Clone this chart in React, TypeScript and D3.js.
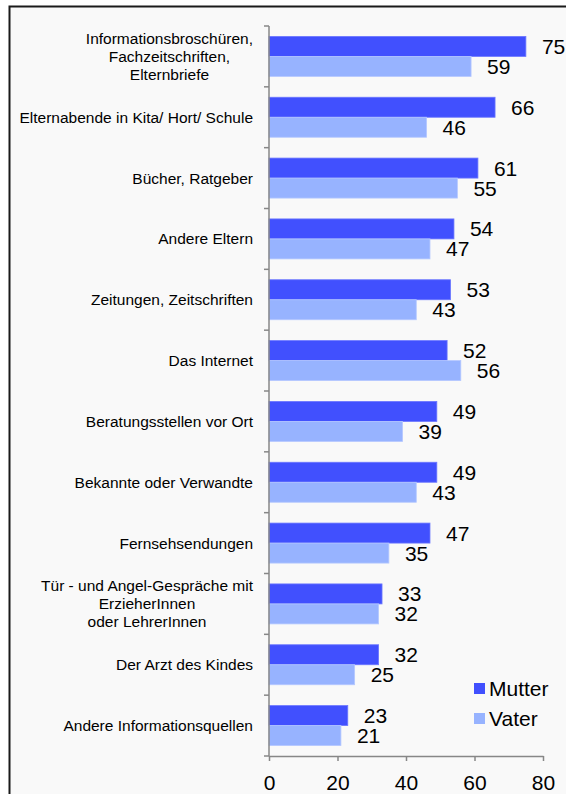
import React, { useEffect, useRef } from "react"
import * as d3 from "d3"

const categories = [
    "Informationsbroschüren,\nFachzeitschriften,\nElternbriefe",
    "Elternabende in Kita/ Hort/ Schule",
    "Bücher, Ratgeber",
    "Andere Eltern",
    "Zeitungen, Zeitschriften",
    "Das Internet",
    "Beratungsstellen vor Ort",
    "Bekannte oder Verwandte",
    "Fernsehsendungen",
    "Tür - und Angel-Gespräche mit\nErzieherInnen\noder LehrerInnen",
    "Der Arzt des Kindes",
    "Andere Informationsquellen",
]
const mutter = [75, 66, 61, 54, 53, 52, 49, 49, 47, 33, 32, 23]
const vater = [59, 46, 55, 47, 43, 56, 39, 43, 35, 32, 25, 21]
const seriesNames = ["Mutter", "Vater"]
const xTicks = [0, 20, 40, 60, 80]

const colors = ["#4150fe", "#97b3ff"]
const font = "'Liberation Sans', Arial, sans-serif"

const App = () => {
    const svgRef = useRef<SVGSVGElement | null>(null)

    useEffect(() => {
        if (!svgRef.current) return
        const svg = d3.select(svgRef.current)
        svg.selectAll("*").remove()

        // outer frame (runs past the bottom/right edge like the source)
        svg.append("rect")
            .attr("x", 9.5)
            .attr("y", 6.5)
            .attr("width", 620)
            .attr("height", 840)
            .attr("fill", "#f9f9f9")
            .attr("stroke", "#1a1a1a")
            .attr("stroke-width", 2)

        const left = 269
        const right = 543
        const top = 26
        const bottom = 756

        const x = d3.scaleLinear().domain([0, 80]).range([left, right])
        const y = d3
            .scaleBand()
            .domain(categories)
            .range([top, bottom])
            .paddingInner(0)
            .paddingOuter(0)

        const barH = 20

        const rows = categories.map((c, i) => ({
            cat: c,
            vals: [mutter[i], vater[i]],
        }))

        // bars + value labels
        const g = svg.append("g")
        rows.forEach((r) => {
            const cy = (y(r.cat) as number) + y.bandwidth() / 2
            r.vals.forEach((v, s) => {
                const by = cy - barH + s * barH
                g.append("rect")
                    .attr("x", x(0))
                    .attr("y", by)
                    .attr("width", x(v) - x(0))
                    .attr("height", barH)
                    .attr("fill", colors[s])
                    .attr("stroke", s === 0 ? "#6b77ff" : "#b5c8ff")
                    .attr("stroke-width", 0.8)
                g.append("text")
                    .attr("x", x(v) + 16)
                    .attr("y", by + barH / 2)
                    .attr("dy", "0.36em")
                    .attr("font-family", font)
                    .attr("font-size", 21)
                    .attr("fill", "#000")
                    .text(v)
            })
        })

        // y axis line + ticks at category boundaries
        const axisColor = "#878787"
        svg.append("line")
            .attr("x1", left)
            .attr("x2", left)
            .attr("y1", top)
            .attr("y2", bottom)
            .attr("stroke", axisColor)
            .attr("stroke-width", 1.5)
        const bounds = categories.map((c) => y(c) as number).concat([bottom])
        svg.append("g")
            .selectAll("line")
            .data(bounds)
            .enter()
            .append("line")
            .attr("x1", left - 5)
            .attr("x2", left)
            .attr("y1", (d) => d)
            .attr("y2", (d) => d)
            .attr("stroke", axisColor)
            .attr("stroke-width", 1.5)

        // x axis
        const xa = svg
            .append("g")
            .attr("transform", "translate(0," + bottom + ")")
            .call(
                d3
                    .axisBottom(x)
                    .tickValues(xTicks)
                    .tickSize(5)
                    .tickSizeOuter(0)
                    .tickPadding(14),
            )
        xa.select(".domain")
            .attr("stroke", axisColor)
            .attr("stroke-width", 1.5)
        xa.selectAll(".tick line")
            .attr("stroke", axisColor)
            .attr("stroke-width", 1.5)
        xa.selectAll(".tick text")
            .attr("font-family", font)
            .attr("font-size", 21)
            .attr("fill", "#000")

        // category labels, multi-line ones centred within a right-aligned block
        const labelRight = 253
        const lineH = 18
        rows.forEach((r) => {
            const cy = (y(r.cat) as number) + y.bandwidth() / 2
            const lines = r.cat.split("\n")
            const t = svg
                .append("text")
                .attr("font-family", font)
                .attr("font-size", 15.5)
                .attr("fill", "#000")
            const spans = lines.map((ln, k) =>
                t
                    .append("tspan")
                    .attr("y", cy + (k - (lines.length - 1) / 2) * lineH)
                    .attr("dy", "0.35em")
                    .text(ln),
            )
            if (lines.length === 1) {
                t.attr("text-anchor", "end")
                spans[0].attr("x", labelRight)
            } else {
                const widths = spans.map((s) =>
                    (s.node() as SVGTSpanElement).getComputedTextLength(),
                )
                const maxW = d3.max(widths) || 0
                t.attr("text-anchor", "middle")
                spans.forEach((s) => s.attr("x", labelRight - maxW / 2))
            }
        })

        // legend
        const leg = svg.append("g")
        seriesNames.forEach((n, i) => {
            const ly = 683 + i * 30
            leg.append("rect")
                .attr("x", 474)
                .attr("y", ly)
                .attr("width", 11)
                .attr("height", 11)
                .attr("fill", colors[i])
            leg.append("text")
                .attr("x", 489)
                .attr("y", ly + 5.5)
                .attr("dy", "0.36em")
                .attr("font-family", font)
                .attr("font-size", 21)
                .attr("fill", "#000")
                .text(n)
        })
    }, [])

    return (
        <svg
            ref={svgRef}
            width={566}
            height={794}
            style={{ position: "absolute", left: 0, top: 0, background: "#fff" }}
        />
    )
}

export default App
